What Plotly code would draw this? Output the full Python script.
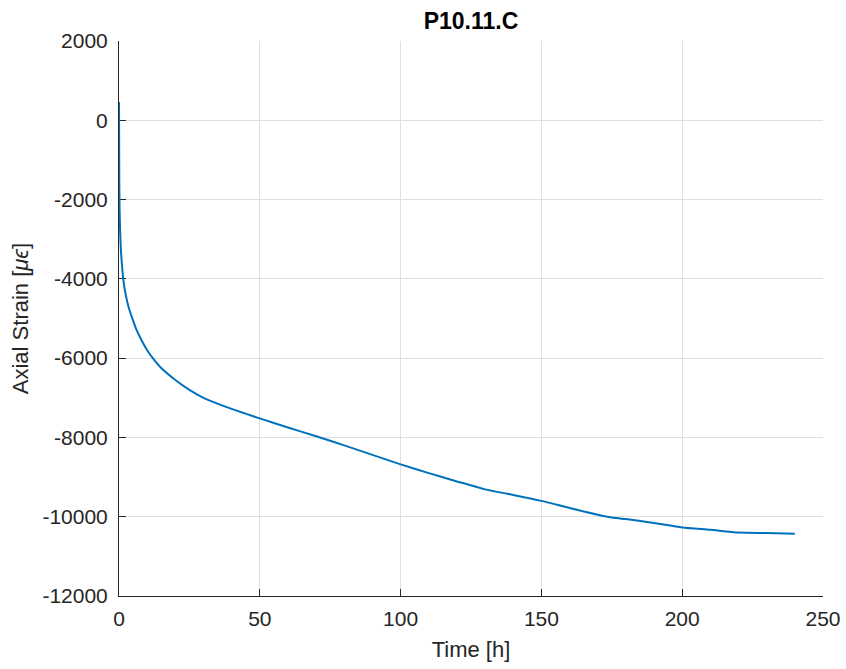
import plotly.graph_objects as go

# Creep test record for specimen P10.11.C
time_h = [0, 0.05, 0.1, 0.2, 0.4, 0.7, 1, 1.5, 2, 3, 4, 5, 6, 8, 10, 12, 15, 20,
          25, 30, 40, 50, 60, 70, 80, 90, 100, 110, 120, 130, 140, 150, 160,
          170, 175, 180, 190, 200, 210, 220, 230, 240]
axial_strain = [460, -500, -1500, -2200, -2800, -3300, -3600, -4000, -4250, -4600,
                -4850, -5050, -5250, -5550, -5800, -6000, -6250, -6550, -6800,
                -7000, -7280, -7520, -7750, -7970, -8200, -8440, -8680, -8900,
                -9110, -9310, -9450, -9600, -9780, -9950, -10020, -10060, -10160,
                -10270, -10330, -10400, -10410, -10430]

x_ticks = [0, 50, 100, 150, 200, 250]
y_ticks = [2000, 0, -2000, -4000, -6000, -8000, -10000, -12000]
x_labels = [str(v) for v in x_ticks]
y_labels = [str(v) for v in y_ticks]  # plain hyphen-minus

axis_color = "#262626"
grid_color = "#e0e0e0"
font_family = "Liberation Sans, Arial, sans-serif"

fig = go.Figure()
fig.add_trace(go.Scatter(
    x=time_h, y=axial_strain, mode="lines",
    line=dict(color="#0072BD", width=2, shape="spline", smoothing=0.6),
    showlegend=False,
))

common_axis = dict(
    showgrid=True, gridcolor=grid_color, gridwidth=1,
    showline=True, linecolor=axis_color, linewidth=1,
    ticks="inside", ticklen=7, tickcolor=axis_color, tickwidth=1,
    tickfont=dict(family=font_family, size=21, color=axis_color),
    zeroline=False, mirror=False, layer="below traces", automargin=False,
)

fig.update_xaxes(
    range=[0, 250], tickvals=x_ticks, ticktext=x_labels, ticklabelstandoff=4,
    title=dict(text="Time [h]", font=dict(family=font_family, size=22, color=axis_color),
               standoff=12),
    **common_axis,
)
fig.update_yaxes(
    range=[-12000, 2000], tickvals=y_ticks, ticktext=y_labels, ticklabelstandoff=6,
    title=dict(text="Axial Strain [<i>μϵ</i>]",
               font=dict(family=font_family, size=22, color=axis_color), standoff=7),
    **common_axis,
)

fig.update_layout(
    width=846, height=669,
    margin=dict(l=119, r=23, t=41, b=73),
    paper_bgcolor="white", plot_bgcolor="white",
    title=dict(text="<b>P10.11.C</b>", x=0.5, xref="paper", y=0.969, yanchor="middle",
               font=dict(family=font_family, size=23, color="#000000")),
)

fig.write_html("out.html")
